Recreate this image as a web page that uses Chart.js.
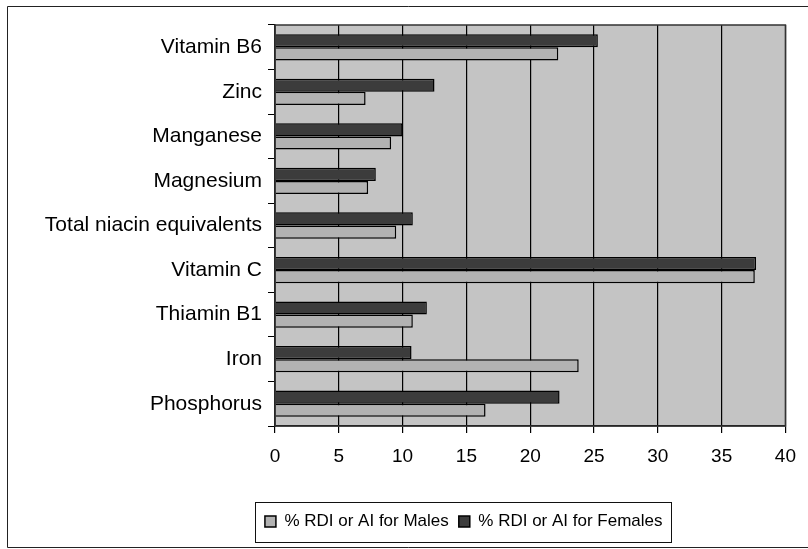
<!DOCTYPE html>
<html>
<head>
<meta charset="utf-8">
<script src="https://cdn.jsdelivr.net/npm/chart.js@4"></script>
<style>
  html, body { margin: 0; padding: 0; background: #fff; }
  #wrap { width: 808px; height: 549px; }
</style>
</head>
<body>
<div id="wrap"><canvas id="myChart" width="808" height="549"></canvas></div>
<script>
const nutrients = ["Vitamin B6", "Zinc", "Manganese", "Magnesium", "Total niacin equivalents", "Vitamin C", "Thiamin B1", "Iron", "Phosphorus"];
const males = [22.2, 7.1, 9.1, 7.3, 9.5, 37.6, 10.8, 23.8, 16.5];
const females = [25.3, 12.5, 10.0, 7.9, 10.8, 37.7, 11.9, 10.7, 22.3];
const xTicks = [0, 5, 10, 15, 20, 25, 30, 35, 40];

const FONT = "'Liberation Sans', Arial, sans-serif";

// plot background, plot frame, outer frame, legend frame
const framePlugin = {
  id: "frames",
  afterLayout(chart) {
    // legend sits off-centre in the original, between x=142 and the plot's right edge
    chart.legend.left = 142;
    chart.legend.right = chart.chartArea.right;
  },
  beforeDraw(chart) {
    const { ctx, chartArea: a } = chart;
    ctx.save();
    ctx.fillStyle = "#c4c4c4";
    ctx.fillRect(a.left, a.top, a.right - a.left, a.bottom - a.top);
    ctx.restore();
  },
  afterDraw(chart) {
    const { ctx, chartArea: a, legend } = chart;
    ctx.save();
    ctx.strokeStyle = "#333";
    ctx.lineWidth = 1.5;
    ctx.strokeRect(a.left, a.top, a.right - a.left, a.bottom - a.top);

    ctx.strokeStyle = "#222";
    ctx.lineWidth = 1;
    ctx.beginPath();
    ctx.moveTo(810, 6.5);
    ctx.lineTo(7.5, 6.5);
    ctx.lineTo(7.5, 547.5);
    ctx.lineTo(810, 547.5);
    ctx.stroke();

    const boxes = legend.legendHitBoxes;
    if (boxes && boxes.length) {
      let l = Infinity, r = -Infinity, mid = 0;
      boxes.forEach((b) => {
        l = Math.min(l, b.left);
        r = Math.max(r, b.left + b.width);
        mid = b.top + b.height / 2;
      });
      ctx.strokeStyle = "#111";
      ctx.strokeRect(Math.round(l - 10) + 0.5, Math.round(mid - 20) + 0.5, Math.round(r - l + 18), 40);
    }
    ctx.restore();
  },
};

const config = {
  type: "bar",
  data: {
    labels: nutrients,
    datasets: [
      {
        label: "% RDI or AI for Females",
        data: females,
        backgroundColor: "#3c3c3c",
        borderColor: "#000",
        borderWidth: 1.5,
      },
      {
        label: "% RDI or AI for Males",
        data: males,
        backgroundColor: "#b2b2b2",
        borderColor: "#000",
        borderWidth: 1.5,
      },
    ],
  },
  options: {
    indexAxis: "y",
    responsive: false,
    animation: false,
    datasets: {
      bar: { categoryPercentage: 0.59, barPercentage: 1.0 },
    },
    layout: {
      padding: { top: 25, right: 22, left: 0, bottom: 9 },
    },
    plugins: {
      tooltip: { enabled: false },
      legend: {
        position: "bottom",
        reverse: true,
        labels: {
          color: "#000",
          font: { family: FONT, size: 17 },
          boxWidth: 11,
          boxHeight: 11,
          padding: 10,
        },
      },
    },
    scales: {
      x: {
        min: 0,
        max: 40,
        afterBuildTicks: (scale) => {
          scale.ticks = xTicks.map((v) => ({ value: v }));
        },
        afterFit: (scale) => {
          scale.height = 77;
        },
        grid: {
          color: "#000",
          lineWidth: 1.2,
          drawOnChartArea: true,
          tickLength: 7,
          tickColor: "#000",
        },
        border: { color: "#000", width: 1.5 },
        ticks: {
          color: "#000",
          font: { family: FONT, size: 19 },
          padding: 12,
        },
      },
      y: {
        afterFit: (scale) => {
          scale.width = 275;
        },
        grid: {
          drawOnChartArea: false,
          tickLength: 7,
          tickColor: "#000",
          offset: true,
        },
        border: { color: "#000", width: 1.5 },
        ticks: {
          color: "#000",
          font: { family: FONT, size: 21 },
          padding: 6,
        },
      },
    },
  },
  plugins: [framePlugin],
};

let myChart = document.getElementById("myChart");
let new_chart = new Chart(myChart.getContext("2d"), config);
</script>
</body>
</html>
